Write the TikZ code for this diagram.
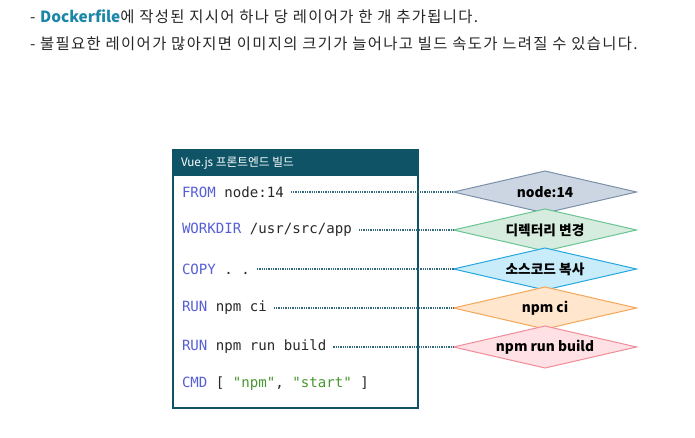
\documentclass[tikz,border=0pt]{standalone}
\usepackage{fontspec}
\setmainfont{Noto Sans CJK KR}
\setmonofont{DejaVu Sans Mono}
\newfontfamily\notefont{Noto Sans CJK KR}[LetterSpace=8.8]
\usepackage{xcolor}
\usetikzlibrary{shapes.geometric}
\definecolor{headteal}{RGB}{14,84,102}
\definecolor{dockteal}{RGB}{28,134,168}
\definecolor{kwblue}{RGB}{86,94,214}
\definecolor{strgreen}{RGB}{72,150,48}
\definecolor{codetext}{RGB}{40,40,40}
\definecolor{dotcol}{RGB}{52,104,124}
\newcommand{\kw}[1]{\textcolor{kwblue}{#1}}
\newcommand{\str}[1]{\textcolor{strgreen}{#1}}

\begin{document}
\begin{tikzpicture}[x=1pt, y=-1pt,
	every node/.style={inner sep=0pt, outer sep=0pt},
	note/.style={anchor=west, font=\fontsize{15.4}{18}\notefont, text=black!85},
	codeline/.style={anchor=west, font=\fontsize{14.1}{16}\ttfamily, text=codetext},
	layer/.style={diamond, draw, line width=1pt, aspect=4.3,
		minimum width=183pt, minimum height=42pt,
		font=\fontsize{13.7}{16}\bfseries, text=black},
	dotline/.style={draw=dotcol, densely dotted, line width=1.3pt, shorten <=7pt}]
	\useasboundingbox (0,0) rectangle (695,438);
	% remarks on top
	\node[note] (rem1) at (30,17) {- {\normalfont\bfseries\color{dockteal}Dockerfile}에 작성된 지시어 하나 당 레이어가 한 개 추가됩니다.};
	\node[note] (rem2) at (30,44) {- 불필요한 레이어가 많아지면 이미지의 크기가 늘어나고 빌드 속도가 느려질 수 있습니다.};
	% dockerfile box
	\node[draw=headteal, line width=2pt, anchor=north west,
	minimum width=245pt, minimum height=258pt] (box) at (173,150) {};
	\node[fill=headteal, anchor=north west,
	minimum width=245pt, minimum height=26pt] (head) at (173,150) {};
	\node[anchor=west, text=white, font=\fontsize{11.7}{14}\selectfont] (title) at (181,163) {Vue.js 프론트엔드 빌드};
	\node[codeline] (from) at (182,192) {\kw{FROM} node:14};
	\node[codeline] (workdir) at (182,230) {\kw{WORKDIR} /usr/src/app};
	\node[codeline] (copy) at (182,269) {\kw{COPY} . .~};
	\node[codeline] (ci) at (182,308) {\kw{RUN} npm ci};
	\node[codeline] (build) at (182,347) {\kw{RUN} npm run build};
	\node[codeline] (cmd) at (182,384) {\kw{CMD} [ \str{"npm"}, \str{"start"} ]};
	% layers
	\node[layer, draw={rgb,255:red,120;green,144;blue,170}, fill={rgb,255:red,204;green,214;blue,226}] (lnode) at (545,192) {node:14};
	\node[layer, draw={rgb,255:red,104;green,196;blue,148}, fill={rgb,255:red,214;green,236;blue,222}] (ldir) at (545,230) {디렉터리 변경};
	\node[layer, draw={rgb,255:red,38;green,166;blue,222}, fill={rgb,255:red,200;green,236;blue,250}] (lsrc) at (545,269) {소스코드 복사};
	\node[layer, draw={rgb,255:red,246;green,166;blue,88}, fill={rgb,255:red,255;green,230;blue,204}] (lci) at (545,308) {npm ci};
	\node[layer, draw={rgb,255:red,240;green,140;blue,152}, fill={rgb,255:red,255;green,224;blue,228}] (lbuild) at (545,347) {npm run build};
	\draw[dotline] (from.east) -- (lnode.west);
	\draw[dotline] (workdir.east) -- (ldir.west);
	\draw[dotline] (copy.east) -- (lsrc.west);
	\draw[dotline] (ci.east) -- (lci.west);
	\draw[dotline] (build.east) -- (lbuild.west);
\end{tikzpicture}
\end{document}
